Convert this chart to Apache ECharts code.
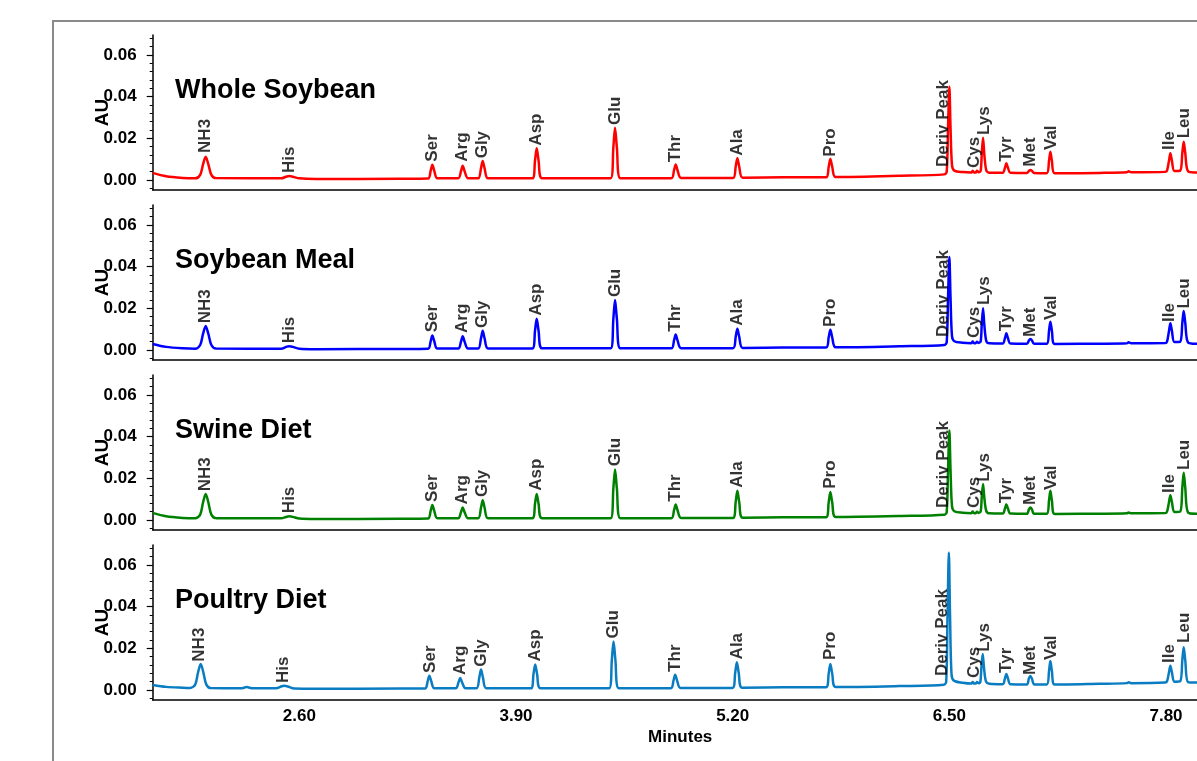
<!DOCTYPE html>
<html>
<head>
<meta charset="utf-8">
<title>Amino acid chromatograms</title>
<script src="https://cdn.jsdelivr.net/npm/echarts@6.0.0/dist/echarts.min.js"></script>
<style>
  html, body { margin: 0; padding: 0; background: #fff; overflow: hidden; }
  #chart { width: 1230px; height: 761px; }
</style>
</head>
<body>
<div id="chart"></div>
<script>
// sample names, one per panel (top to bottom)
const panelTitles = ["Whole Soybean", "Soybean Meal", "Swine Diet", "Poultry Diet"];
const panelColors = ["#ff0000", "#0000ff", "#008000", "#0a7dc2"];

// x axis tick labels (minutes) and y axis ticks (AU)
const xTickLabels = [2.6, 3.9, 5.2, 6.5, 7.8];
const yMajorTicks = [0, 0.02, 0.04, 0.06];
const yMinorTicks = [-0.004, 0, 0.004, 0.008, 0.012, 0.016, 0.02, 0.024, 0.028, 0.032, 0.036,
  0.04, 0.044, 0.048, 0.052, 0.056, 0.06, 0.064, 0.068];

const peakNames = ["NH3", "His", "Ser", "Arg", "Gly", "Asp", "Glu", "Thr", "Ala", "Pro",
  "Deriv Peak", "Cys", "Lys", "Tyr", "Met", "Val", "Ile", "Leu"];

// traces [minutes, AU]
const wholeSoybeanTrace = [
  [1.72,0.0034],[1.80,0.0018],[1.90,0.0010],[1.975,0.0008],
  [2.005,0.0025],[2.022,0.0075],[2.038,0.0112],[2.054,0.0075],[2.072,0.0025],[2.10,0.0009],
  [2.49,0.0008],[2.525,0.0017],[2.54,0.0019],[2.56,0.0016],[2.60,0.0008],
  [2.70,0.0005],[3.20,0.0006],
  [3.372,0.0007],[3.388,0.0045],[3.398,0.0073],[3.409,0.0045],[3.428,0.0008],
  [3.553,0.0008],[3.57,0.0043],[3.58,0.0069],[3.591,0.0043],[3.612,0.0008],
  [3.673,0.0008],[3.69,0.0057],[3.70,0.0091],[3.711,0.0057],[3.732,0.0008],
  [3.9,0.0008],
  [3.998,0.0008],[4.014,0.0095],[4.024,0.0152],[4.035,0.0095],[4.056,0.0009],
  [4.468,0.0009],[4.484,0.0157],[4.494,0.0251],[4.505,0.0157],[4.526,0.0009],
  [4.832,0.0009],[4.848,0.0047],[4.858,0.0075],[4.869,0.0047],[4.89,0.0010],
  [5.202,0.0010],[5.218,0.0065],[5.228,0.0104],[5.239,0.0065],[5.26,0.0011],
  [5.5,0.0013],
  [5.76,0.0013],[5.776,0.0064],[5.786,0.0101],[5.797,0.0064],[5.818,0.0014],
  [6.2,0.0020],[6.47,0.0027],
  [6.484,0.0040],[6.492,0.0250],[6.50,0.0448],[6.507,0.0250],[6.516,0.0070],[6.53,0.0045],[6.58,0.0038],
  [6.632,0.0036],[6.64,0.0045],[6.648,0.0036],[6.658,0.0036],[6.666,0.0044],[6.676,0.0037],
  [6.688,0.0045],[6.694,0.0120],[6.702,0.0203],[6.71,0.0120],[6.722,0.0045],[6.74,0.0035],
  [6.82,0.0035],[6.834,0.0060],[6.842,0.0080],[6.851,0.0060],[6.866,0.0035],
  [6.965,0.0034],[6.978,0.0044],[6.986,0.0048],[6.995,0.0044],[7.008,0.0034],
  [7.084,0.0033],[7.098,0.0093],[7.106,0.0136],[7.115,0.0093],[7.132,0.0032],
  [7.4,0.0034],[7.565,0.0037],[7.576,0.0042],[7.59,0.0037],[7.795,0.0039],
  [7.806,0.0045],[7.818,0.0094],[7.826,0.0128],[7.835,0.0094],[7.85,0.0043],
  [7.885,0.0045],[7.898,0.0132],[7.906,0.0184],[7.915,0.0132],[7.932,0.0042],
  [7.98,0.0036],[8.05,0.0035]
];

const soybeanMealTrace = [
  [1.72,0.0029],[1.80,0.0015],[1.90,0.0008],[1.975,0.0006],
  [2.005,0.0024],[2.022,0.0077],[2.038,0.0115],[2.054,0.0077],[2.072,0.0024],[2.10,0.0007],
  [2.49,0.0006],[2.525,0.0016],[2.54,0.0018],[2.56,0.0015],[2.60,0.0006],
  [2.70,0.0004],[3.20,0.0005],
  [3.372,0.0006],[3.388,0.0043],[3.398,0.0070],[3.409,0.0043],[3.428,0.0007],
  [3.553,0.0007],[3.57,0.0041],[3.58,0.0066],[3.591,0.0041],[3.612,0.0007],
  [3.673,0.0007],[3.69,0.0057],[3.70,0.0092],[3.711,0.0057],[3.732,0.0007],
  [3.9,0.0007],
  [3.998,0.0007],[4.014,0.0094],[4.024,0.0150],[4.035,0.0094],[4.056,0.0008],
  [4.468,0.0008],[4.484,0.0150],[4.494,0.0240],[4.505,0.0150],[4.526,0.0008],
  [4.832,0.0008],[4.848,0.0046],[4.858,0.0074],[4.869,0.0046],[4.89,0.0009],
  [5.202,0.0009],[5.218,0.0064],[5.228,0.0102],[5.239,0.0064],[5.26,0.0010],
  [5.5,0.0012],
  [5.76,0.0012],[5.776,0.0061],[5.786,0.0097],[5.797,0.0061],[5.818,0.0013],
  [6.2,0.0018],[6.47,0.0024],
  [6.484,0.0038],[6.492,0.0250],[6.50,0.0446],[6.507,0.0250],[6.516,0.0065],[6.53,0.0042],[6.58,0.0035],
  [6.632,0.0033],[6.64,0.0041],[6.648,0.0033],[6.658,0.0033],[6.666,0.0040],[6.676,0.0034],
  [6.688,0.0042],[6.694,0.0118],[6.702,0.0200],[6.71,0.0118],[6.722,0.0042],[6.74,0.0032],
  [6.82,0.0031],[6.834,0.0058],[6.842,0.0080],[6.851,0.0058],[6.866,0.0031],
  [6.965,0.0030],[6.978,0.0047],[6.986,0.0053],[6.995,0.0047],[7.008,0.0030],
  [7.084,0.0030],[7.098,0.0093],[7.106,0.0136],[7.115,0.0093],[7.132,0.0029],
  [7.4,0.0030],[7.565,0.0032],[7.576,0.0037],[7.59,0.0032],[7.795,0.0033],
  [7.806,0.0040],[7.818,0.0093],[7.826,0.0128],[7.835,0.0093],[7.85,0.0038],
  [7.885,0.0040],[7.898,0.0133],[7.906,0.0187],[7.915,0.0133],[7.932,0.0036],
  [7.98,0.0030],[8.05,0.0030]
];

const swineDietTrace = [
  [1.72,0.0034],[1.80,0.0018],[1.90,0.0010],[1.975,0.0008],
  [2.005,0.0026],[2.022,0.0084],[2.038,0.0125],[2.054,0.0084],[2.072,0.0026],[2.10,0.0009],
  [2.49,0.0008],[2.525,0.0016],[2.54,0.0018],[2.56,0.0015],[2.60,0.0007],
  [2.70,0.0005],[3.20,0.0006],
  [3.372,0.0007],[3.388,0.0045],[3.398,0.0072],[3.409,0.0045],[3.428,0.0008],
  [3.553,0.0008],[3.57,0.0038],[3.58,0.0060],[3.591,0.0038],[3.612,0.0008],
  [3.673,0.0008],[3.69,0.0060],[3.70,0.0095],[3.711,0.0060],[3.732,0.0008],
  [3.9,0.0008],
  [3.998,0.0008],[4.014,0.0079],[4.024,0.0125],[4.035,0.0079],[4.056,0.0009],
  [4.468,0.0009],[4.484,0.0152],[4.494,0.0243],[4.505,0.0152],[4.526,0.0009],
  [4.832,0.0009],[4.848,0.0047],[4.858,0.0075],[4.869,0.0047],[4.89,0.0010],
  [5.202,0.0010],[5.218,0.0087],[5.228,0.0140],[5.239,0.0087],[5.26,0.0011],
  [5.5,0.0013],
  [5.76,0.0013],[5.776,0.0085],[5.786,0.0135],[5.797,0.0085],[5.818,0.0014],
  [6.2,0.0019],[6.47,0.0025],
  [6.484,0.0038],[6.492,0.0240],[6.50,0.0430],[6.507,0.0240],[6.516,0.0065],[6.53,0.0042],[6.58,0.0035],
  [6.632,0.0033],[6.64,0.0041],[6.648,0.0033],[6.658,0.0033],[6.666,0.0040],[6.676,0.0034],
  [6.688,0.0042],[6.694,0.0105],[6.702,0.0173],[6.71,0.0105],[6.722,0.0042],[6.74,0.0032],
  [6.82,0.0031],[6.834,0.0056],[6.842,0.0075],[6.851,0.0056],[6.866,0.0031],
  [6.965,0.0030],[6.978,0.0052],[6.986,0.0060],[6.995,0.0052],[7.008,0.0030],
  [7.084,0.0030],[7.098,0.0095],[7.106,0.0140],[7.115,0.0095],[7.132,0.0029],
  [7.4,0.0030],[7.565,0.0032],[7.576,0.0036],[7.59,0.0032],[7.795,0.0033],
  [7.806,0.0040],[7.818,0.0087],[7.826,0.0119],[7.835,0.0087],[7.85,0.0038],
  [7.885,0.0040],[7.898,0.0158],[7.906,0.0227],[7.915,0.0158],[7.932,0.0036],
  [7.98,0.0030],[8.05,0.0030]
];

const poultryDietTrace = [
  [1.72,0.0024],[1.80,0.0015],[1.90,0.0011],[1.945,0.0010],
  [1.975,0.0026],[1.992,0.0084],[2.008,0.0125],[2.024,0.0084],[2.042,0.0026],[2.07,0.0009],
  [2.25,0.0008],[2.284,0.0014],[2.32,0.0008],
  [2.46,0.0008],[2.495,0.0018],[2.51,0.0020],[2.53,0.0017],[2.57,0.0007],
  [2.70,0.0006],[3.20,0.0007],
  [3.354,0.0007],[3.37,0.0043],[3.38,0.0069],[3.391,0.0043],[3.41,0.0008],
  [3.538,0.0008],[3.555,0.0037],[3.565,0.0058],[3.576,0.0037],[3.597,0.0008],
  [3.663,0.0008],[3.68,0.0062],[3.69,0.0098],[3.701,0.0062],[3.722,0.0008],
  [3.9,0.0008],
  [3.989,0.0008],[4.005,0.0078],[4.015,0.0123],[4.026,0.0078],[4.047,0.0009],
  [4.459,0.0009],[4.475,0.0146],[4.485,0.0233],[4.496,0.0146],[4.517,0.0009],
  [4.829,0.0009],[4.845,0.0046],[4.855,0.0073],[4.866,0.0046],[4.887,0.0010],
  [5.199,0.0010],[5.215,0.0083],[5.225,0.0133],[5.236,0.0083],[5.257,0.0011],
  [5.5,0.0013],
  [5.76,0.0013],[5.776,0.0079],[5.786,0.0125],[5.797,0.0079],[5.818,0.0014],
  [6.2,0.0019],[6.467,0.0025],
  [6.481,0.0040],[6.489,0.0360],[6.497,0.0660],[6.504,0.0360],[6.513,0.0075],[6.527,0.0045],[6.58,0.0035],
  [6.632,0.0031],[6.64,0.0039],[6.648,0.0031],[6.658,0.0031],[6.666,0.0038],[6.676,0.0032],
  [6.686,0.0040],[6.692,0.0105],[6.70,0.0173],[6.708,0.0105],[6.72,0.0040],[6.74,0.0030],
  [6.82,0.0028],[6.834,0.0057],[6.842,0.0077],[6.851,0.0057],[6.866,0.0028],
  [6.965,0.0027],[6.977,0.0055],[6.986,0.0067],[6.995,0.0055],[7.01,0.0027],
  [7.084,0.0027],[7.098,0.0092],[7.106,0.0139],[7.115,0.0092],[7.132,0.0026],
  [7.4,0.0030],[7.565,0.0033],[7.576,0.0037],[7.59,0.0033],[7.795,0.0036],
  [7.806,0.0042],[7.818,0.0086],[7.826,0.0117],[7.835,0.0086],[7.85,0.0040],
  [7.885,0.0042],[7.898,0.0146],[7.906,0.0205],[7.915,0.0146],[7.932,0.0038],
  [7.98,0.0036],[8.05,0.0036]
];

// where each peak name sits: [minutes, AU at the foot of the label], same order as peakNames
const wholeSoybeanLabels = [[2.038,0.0130],[2.54,0.0034],[3.398,0.0088],[3.58,0.0088],[3.70,0.0104],
  [4.024,0.0165],[4.494,0.0264],[4.858,0.0085],[5.228,0.0117],[5.786,0.0112],[6.462,0.0062],
  [6.647,0.0058],[6.708,0.0216],[6.842,0.0088],[6.986,0.0064],[7.11,0.0144],[7.822,0.0144],[7.912,0.0200]];
const soybeanMealLabels = [[2.038,0.0128],[2.54,0.0033],[3.398,0.0085],[3.58,0.0082],[3.70,0.0106],
  [4.024,0.0165],[4.494,0.0254],[4.858,0.0088],[5.228,0.0116],[5.786,0.0111],[6.462,0.0062],
  [6.647,0.0058],[6.708,0.0216],[6.842,0.0090],[6.986,0.0063],[7.11,0.0144],[7.822,0.0135],[7.912,0.0199]];
const swineDietLabels = [[2.038,0.0138],[2.54,0.0033],[3.398,0.0087],[3.58,0.0075],[3.70,0.0110],
  [4.024,0.0140],[4.494,0.0258],[4.858,0.0088],[5.228,0.0155],[5.786,0.0150],[6.462,0.0058],
  [6.647,0.0058],[6.708,0.0184],[6.842,0.0081],[6.986,0.0072],[7.11,0.0144],[7.822,0.0130],[7.912,0.0240]];
const poultryDietLabels = [[1.998,0.0136],[2.502,0.0034],[3.384,0.0082],[3.565,0.0072],[3.69,0.0112],
  [4.015,0.0137],[4.485,0.0247],[4.855,0.0087],[5.225,0.0147],[5.786,0.0144],[6.46,0.0067],
  [6.647,0.0058],[6.708,0.0184],[6.842,0.0082],[6.986,0.0072],[7.11,0.0144],[7.822,0.0130],[7.912,0.0226]];

const traces = [wholeSoybeanTrace, soybeanMealTrace, swineDietTrace, poultryDietTrace];
const labelSpots = [wholeSoybeanLabels, soybeanMealLabels, swineDietLabels, poultryDietLabels];

const FONT = '"Liberation Sans", Arial, sans-serif';
const PANEL_TOP = 35, PANEL_STEP = 170, PANEL_H = 155, PLOT_LEFT = 152.7, PLOT_W = 1055;

const grids = [], xAxes = [], yAxes = [], series = [], graphics = [];

panelTitles.forEach(function (title, i) {
  const last = i === panelTitles.length - 1;
  grids.push({ left: PLOT_LEFT, top: PANEL_TOP + PANEL_STEP * i, width: PLOT_W, height: PANEL_H });

  xAxes.push({
    type: "value", gridIndex: i, min: 1.72, max: 8.05,
    axisLine: { show: true, onZero: false, lineStyle: { color: "#000", width: 1.5 } },
    axisTick: { show: false },
    splitLine: { show: false },
    axisLabel: {
      show: last, customValues: xTickLabels, margin: 8,
      formatter: function (v) { return v.toFixed(2); },
      color: "#000", fontWeight: "bold", fontSize: 17, fontFamily: FONT
    },
    name: last ? "Minutes" : "", nameLocation: "middle", nameGap: 29, nameMoveOverlap: false,
    nameTextStyle: { color: "#000", fontWeight: "bold", fontSize: 17, fontFamily: FONT }
  });

  yAxes.push({
    type: "value", gridIndex: i, position: "left", min: -0.0048, max: 0.0696,
    axisLine: { show: true, onZero: false, lineStyle: { color: "#000", width: 1.5 } },
    axisTick: { show: true, customValues: yMajorTicks, length: 6, lineStyle: { color: "#000", width: 1.2 } },
    splitLine: { show: false },
    axisLabel: {
      customValues: yMajorTicks, margin: 16,
      formatter: function (v) { return v.toFixed(2); },
      color: "#000", fontWeight: "bold", fontSize: 17, fontFamily: FONT
    },
    name: "AU", nameLocation: "middle", nameGap: 40, nameRotate: 90, nameMoveOverlap: false,
    nameTextStyle: { color: "#000", fontWeight: "bold", fontSize: 19, fontFamily: FONT }
  });
  yAxes.push({
    type: "value", gridIndex: i, position: "left", min: -0.0048, max: 0.0696,
    axisLine: { show: false },
    axisTick: { show: true, customValues: yMinorTicks, length: 3, lineStyle: { color: "#000", width: 1 } },
    axisLabel: { show: false },
    splitLine: { show: false }
  });

  series.push({
    type: "line", xAxisIndex: i, yAxisIndex: 2 * i,
    data: traces[i], showSymbol: false, smooth: 0.3,
    lineStyle: { color: panelColors[i], width: 2.5 },
    itemStyle: { color: panelColors[i] },
    animation: false, silent: true
  });

  series.push({
    type: "scatter", xAxisIndex: i, yAxisIndex: 2 * i,
    symbolSize: 0, itemStyle: { color: "rgba(0,0,0,0)" },
    data: labelSpots[i].map(function (p, k) { return { value: p, name: peakNames[k] }; }),
    label: {
      show: true, formatter: "{b}", position: "top", distance: 0, rotate: 90,
      align: "left", verticalAlign: "middle",
      color: "#000", fontWeight: "bold", fontSize: 17, fontFamily: FONT
    },
    animation: false, silent: true, z: 5
  });

  graphics.push({
    type: "text", x: 175, y: 91 + PANEL_STEP * i, silent: true,
    style: { text: title, fill: "#000", font: "bold 27px " + FONT, verticalAlign: "middle" }
  });
});

graphics.push({
  type: "rect", silent: true, z: -1,
  shape: { x: 53, y: 21, width: 1400, height: 1000 },
  style: { fill: "none", stroke: "#8a8a8a", lineWidth: 2 }
});

const chart = echarts.init(document.getElementById("chart"));
chart.setOption({
  backgroundColor: "#fff",
  animation: false,
  grid: grids,
  xAxis: xAxes,
  yAxis: yAxes,
  series: series,
  graphic: graphics
});
</script>
</body>
</html>
